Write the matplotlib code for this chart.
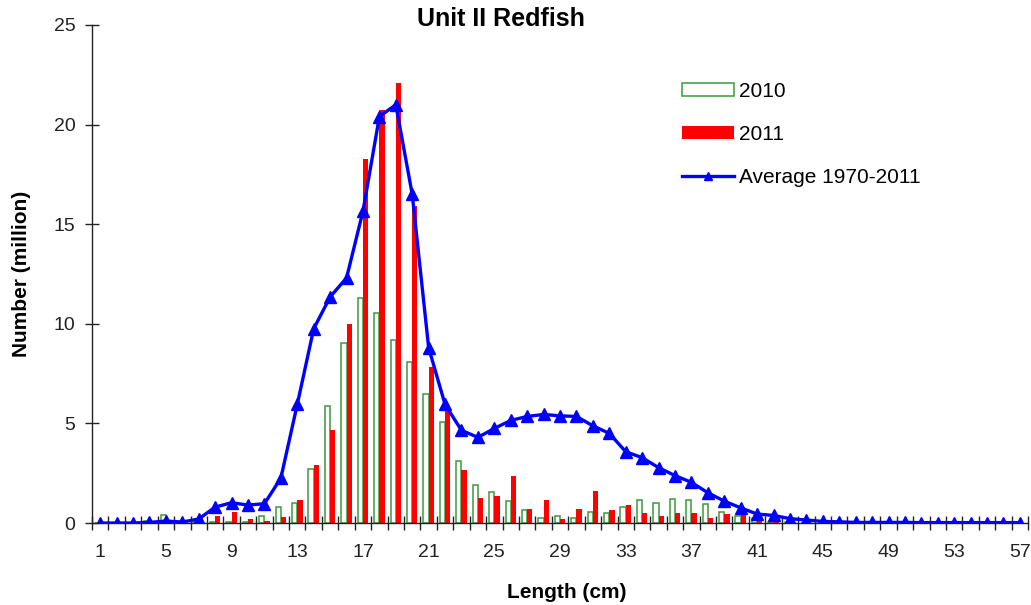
import numpy as np
import matplotlib
matplotlib.use("Agg")
import matplotlib.pyplot as plt
from matplotlib.patches import Patch
from matplotlib.lines import Line2D

plt.rcParams['font.family'] = ['Liberation Sans', 'DejaVu Sans']

# length classes (cm)
lengths = np.arange(1, 58)

# numbers at length (million)
n2010 = [0, 0, 0, 0.1, 0.38, 0.05, 0.03, 0.05, 0.06, 0.06,
         0.33, 0.78, 1.03, 2.7, 5.85, 9.05, 11.3, 10.55, 9.2, 8.1,
         6.5, 5.08, 3.1, 1.92, 1.54, 1.09, 0.64, 0.25, 0.34, 0.25,
         0.55, 0.5, 0.82, 1.15, 1.02, 1.2, 1.15, 0.94, 0.57, 0.37,
         0.24, 0.06, 0.03, 0, 0, 0, 0, 0, 0, 0,
         0, 0, 0, 0, 0, 0, 0]
n2011 = [0, 0, 0, 0, 0, 0, 0, 0.35, 0.57, 0.2,
         0.08, 0.28, 1.17, 2.9, 4.65, 10.0, 18.25, 20.75, 22.1, 15.9,
         7.85, 5.8, 2.64, 1.24, 1.35, 2.37, 0.72, 1.17, 0.2, 0.72,
         1.62, 0.65, 0.9, 0.52, 0.33, 0.52, 0.52, 0.27, 0.46, 0.46,
         0.15, 0.08, 0.03, 0, 0, 0, 0, 0, 0, 0,
         0, 0, 0, 0, 0, 0, 0]
avg = [0, 0, 0, 0.03, 0.1, 0.05, 0.2, 0.8, 1.02, 0.9,
       0.97, 2.25, 5.95, 9.75, 11.35, 12.3, 15.65, 20.4, 21.0, 16.5,
       8.8, 5.95, 4.65, 4.3, 4.75, 5.15, 5.35, 5.45, 5.38, 5.35,
       4.88, 4.5, 3.58, 3.28, 2.78, 2.38, 2.04, 1.52, 1.1, 0.76,
       0.45, 0.38, 0.22, 0.15, 0.08, 0.06, 0.03, 0.03, 0.03, 0.03,
       0.02, 0.02, 0.02, 0.02, 0.02, 0.02, 0.02]

fig = plt.figure(figsize=(10.31, 6.05), dpi=100)
ax = fig.add_axes([0.0892, 0.1355, 0.908, 0.8232])

w = 0.32
ax.bar(lengths - 0.16, n2010, width=w, facecolor='white', edgecolor='#3c9a3c',
       linewidth=1.1, zorder=2)
ax.bar(lengths + 0.16, n2011, width=w, color='#ff0000', linewidth=0, zorder=2)
ax.plot(lengths, avg, color='#0000ff', lw=2.4, marker='^', ms=8, zorder=3)

ax.set_xlim(0.5, 57.5)
ax.set_ylim(0, 25)

# ticks
ax.set_xticks(np.arange(0.5, 58, 1))
ax.set_xticklabels([])
ax.set_xticks(np.arange(1, 58, 4), minor=True)
ax.set_xticklabels([str(v) for v in range(1, 58, 4)], minor=True)
ax.tick_params(axis='x', which='major', direction='inout', length=10, width=1, color='#222222')
ax.tick_params(axis='x', which='minor', length=0, pad=15, labelsize=14, labelcolor='#222222')
ax.set_yticks(np.arange(0, 26, 5))
ax.tick_params(axis='y', direction='inout', length=10, width=1, color='#222222',
               pad=7, labelsize=14, labelcolor='#222222')

for s in ['top', 'right']:
    ax.spines[s].set_visible(False)
for s in ['left', 'bottom']:
    ax.spines[s].set_color('#222222')
    ax.spines[s].set_linewidth(1)

fig.text(501 / 1031, 1 - 19 / 605, 'Unit II Redfish', fontsize=18, fontweight='bold',
         ha='center', va='center')
fig.text(567 / 1031, 1 - 593 / 605, 'Length (cm)', fontsize=15, fontweight='bold',
         ha='center', va='center')
ax.set_ylabel('Number (million)', fontsize=15, fontweight='bold', labelpad=16)

handles = [Patch(facecolor='white', edgecolor='#3c9a3c', linewidth=1.1),
           Patch(facecolor='#ff0000', edgecolor='none'),
           Line2D([], [], color='#0000ff', lw=2.4, marker='^', ms=6)]
ax.legend(handles, ['2010', '2011', 'Average 1970-2011'],
          loc='upper left', bbox_to_anchor=(682 / 1031, 1 - 82 / 605),
          bbox_transform=fig.transFigure, frameon=False, fontsize=15,
          handlelength=2.5, handleheight=0.6, handletextpad=0.25,
          labelspacing=1.15, borderpad=0, borderaxespad=0)

fig.savefig('out.png', dpi=100)
